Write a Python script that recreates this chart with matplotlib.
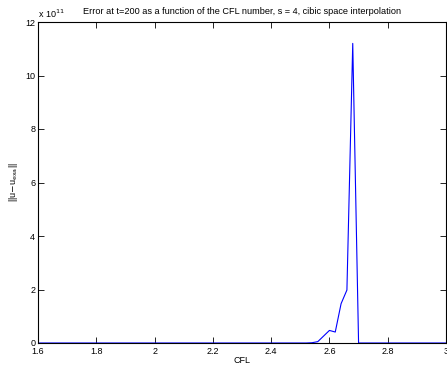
import matplotlib
matplotlib.use("Agg")
import matplotlib.pyplot as plt

plt.rcParams['font.family'] = ['Liberation Sans', 'DejaVu Sans']

# CFL numbers sampled and the error norm (in units of 1e11) at t=200
cfl = [1.60, 2.50, 2.52, 2.54, 2.56, 2.58, 2.60, 2.62, 2.64, 2.66, 2.68, 2.70, 2.72, 3.00]
err = [0.0, 0.0, 0.0, 0.01, 0.05, 0.26, 0.47, 0.41, 1.47, 1.98, 11.2, 0.0, 0.0, 0.0]

xticks = [1.6, 1.8, 2.0, 2.2, 2.4, 2.6, 2.8, 3.0]
xticklabels = ['1.6', '1.8', '2', '2.2', '2.4', '2.6', '2.8', '3']
yticks = [0, 2, 4, 6, 8, 10, 12]

fig = plt.figure(figsize=(4.47, 3.65), dpi=100)
ax = fig.add_axes([38 / 447, 22 / 365, 408 / 447, 321 / 365])

ax.plot(cfl, err, color='#0000ff', linewidth=0.8)

ax.set_xlim(1.6, 3.0)
ax.set_ylim(0, 12)
ax.set_xticks(xticks)
ax.set_xticklabels(xticklabels)
ax.set_yticks(yticks)
ax.tick_params(direction='in', length=4, width=0.6, labelsize=6.5,
               top=True, right=True, colors='black')
ax.tick_params(axis='x', pad=3)
ax.tick_params(axis='y', pad=2)
for s in ax.spines.values():
    s.set_linewidth(0.8)

ax.set_xlabel('CFL', fontsize=6.5, labelpad=0)
ax.set_ylabel(r'||u$-$u$_{\mathrm{exa}}$||', fontsize=6.5, labelpad=4)
ax.set_title('Error at t=200 as a function of the CFL number, s = 4, cibic space interpolation',
             fontsize=6.6, pad=6)
ax.text(0.0, 1.005, r'x 10$^{11}$', transform=ax.transAxes, fontsize=6.5,
        ha='left', va='bottom')

fig.savefig('out.png', dpi=100)
